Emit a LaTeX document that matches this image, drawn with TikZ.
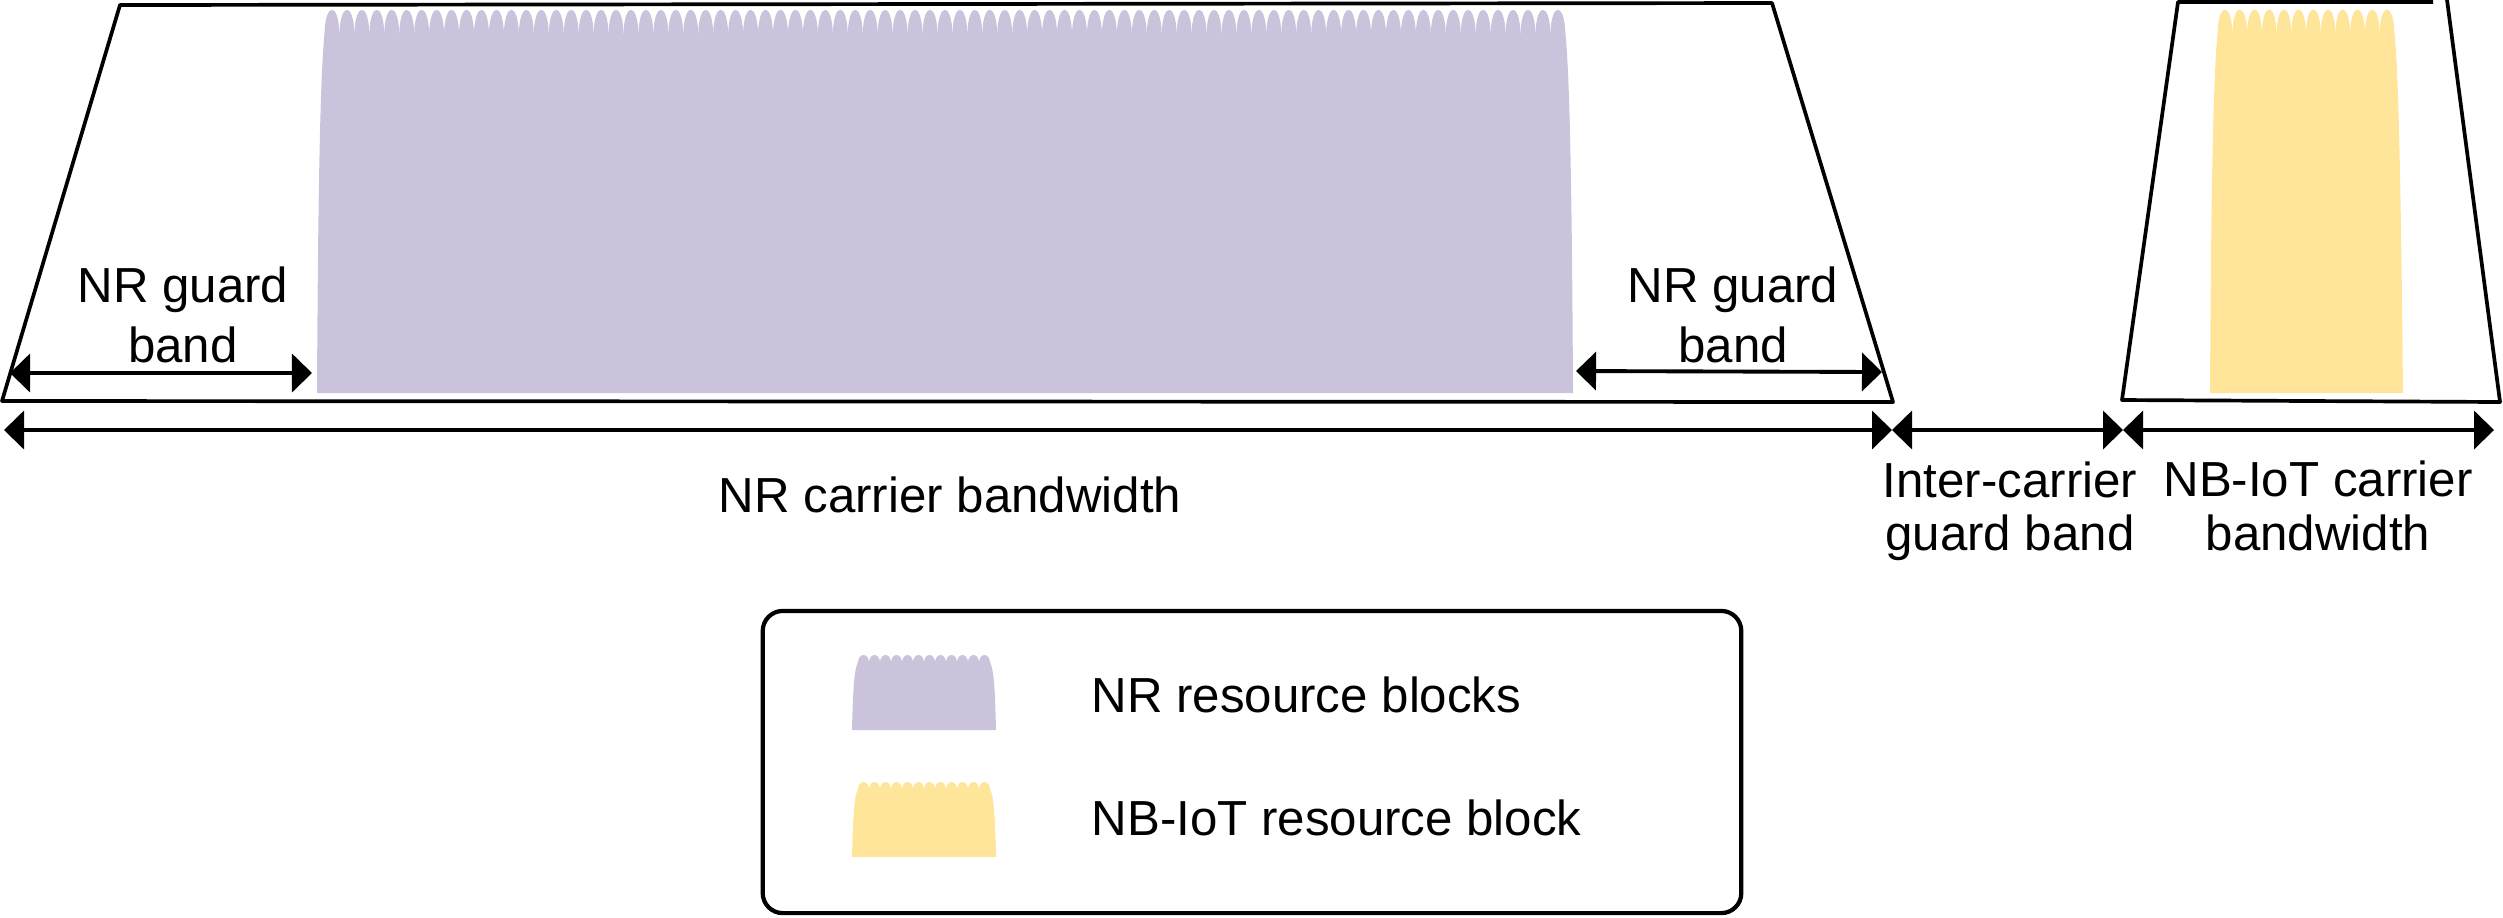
\documentclass[tikz,border=0pt]{standalone}
\usepackage{fontspec}
\setmainfont{Liberation Sans}
\usetikzlibrary{arrows.meta}

\definecolor{nrviola}{HTML}{CBC3DB}
\definecolor{iotgiallo}{HTML}{FFE599}

\begin{document}
\begin{tikzpicture}[x=0.01cm, y=-0.01cm, >={Triangle[length=0.2cm, width=0.38cm]},
    bordo/.style={line width=1.05pt, line join=round},
    quota/.style={<->, line width=1.1pt},
    testo/.style={font=\fontsize{14pt}{17pt}\selectfont, inner sep=0pt, align=center},
    stretto/.style={testo, font=\fontsize{14pt}{15.2pt}\selectfont},
    legenda/.style={draw, line width=1.2pt, rounded corners=0.2cm, minimum width=9.78cm, minimum height=3.02cm}]
\useasboundingbox (0,0) rectangle (2503,917);

% Blocchi NR
\fill[nrviola] (317,393) .. controls (318,200) and (320,80) .. (324.5,33) -- (1565.4,33)
    .. controls (1570,80) and (1572,200) .. (1573,393) -- cycle;
\foreach \i in {0,...,82}
    \fill[nrviola] (324.5+\i*14.95,33) .. controls +(1,-31) and +(-1,-31) .. +(14.95,0);

% Blocco NB-IoT
\fill[iotgiallo] (2210,393) .. controls (2211,200) and (2213,80) .. (2217.6,32) -- (2394.4,32)
    .. controls (2399,80) and (2401,200) .. (2403,393) -- cycle;
\foreach \i in {0,...,11}
    \fill[iotgiallo] (2217.6+\i*14.73,32) .. controls +(1,-30) and +(-1,-30) .. +(14.73,0);

% Portanti
\draw[bordo] (2,401) -- (120,5) -- (1772,3) -- (1893,402) -- cycle;
\draw[bordo] (2433,2) -- (2178,2) -- (2122,400) -- (2500,402) -- (2447,0);

% Frecce
\coordinate (gl1) at (10,373);
\coordinate (gl2) at (312,373);
\coordinate (gr1) at (1576,371);
\coordinate (gr2) at (1882,372);
\coordinate (c0) at (4,430);
\coordinate (c1) at (1892,430);
\coordinate (c2) at (2123,430);
\coordinate (c3) at (2494,430);
\draw[quota] (gl1) -- (gl2);
\draw[quota] (gr1) -- (gr2);
\draw[quota] (c0) -- (c1);
\draw[quota] (c1) -- (c2);
\draw[quota] (c2) -- (c3);

\node[testo] (nrgl) at (183,315) {NR guard\\band};
\node[testo] (nrgr) at (1733,315) {NR guard\\band};
\node[testo, anchor=base] (nrbw) at (950,512) {NR carrier bandwidth};
\node[stretto] (icgb) at (2010,511) {Inter-carrier\\guard band};
\node[stretto] (iotbw) at (2318,506) {NB-IoT carrier\\bandwidth};

% Legenda
\node[legenda] (leg) at (1252,762) {};
\foreach \yy/\col in {0/nrviola, 127/iotgiallo} {
    \fill[\col] (852,730+\yy) .. controls (853,690+\yy) and (854,670+\yy) .. (858,662+\yy) -- (990,662+\yy)
        .. controls (994,670+\yy) and (995,690+\yy) .. (996,730+\yy) -- cycle;
    \foreach \i in {0,...,11}
        \fill[\col] (858+\i*11,662+\yy) .. controls +(0.7,-9.3) and +(-0.7,-9.3) .. +(11,0);
}
\node[testo, anchor=base west] (legnr) at (1091,712) {NR resource blocks};
\node[testo, anchor=base west] (legiot) at (1091,835) {NB-IoT resource block};
\end{tikzpicture}
\end{document}
